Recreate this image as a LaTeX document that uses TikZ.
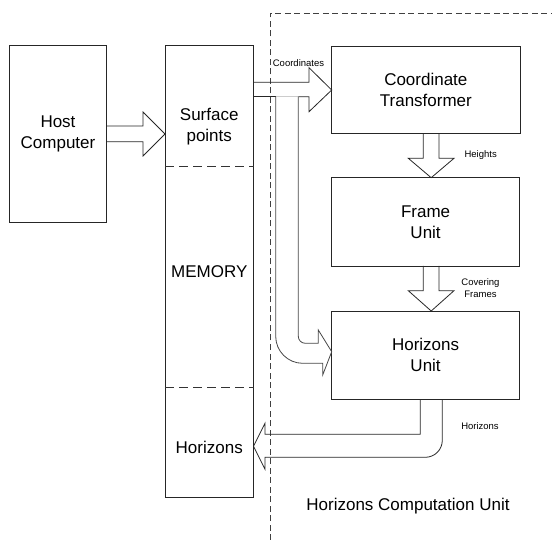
\documentclass[tikz,border=0pt]{standalone}
\usepackage{fontspec}
\setmainfont{Liberation Sans}
\begin{document}
\begin{tikzpicture}[x=1pt,y=-1pt,
  box/.style={draw=black!85,line width=0.8pt,inner sep=0pt,outer sep=0pt,align=center,font=\fontsize{17}{21}\selectfont},
  bigtext/.style={inner sep=0pt,align=center,font=\fontsize{17}{21}\selectfont},
  smalltext/.style={inner sep=0pt,align=center,font=\fontsize{9.5}{12.3}\selectfont},
  blockarrow/.style={draw=black!85,line width=0.8pt,line join=miter},
  brancharrow/.style={draw=black!72,line width=0.8pt,line join=miter},
  boundary/.style={draw=black!75,line width=0.8pt,dash pattern=on 6pt off 3.5pt},
  memsplit/.style={draw=black!80,line width=0.8pt,dash pattern=on 9pt off 5pt}]
\useasboundingbox (0,0) rectangle (552,540);
% boxes
\node[box,minimum width=97.4pt,minimum height=176.6pt] (host) at (58,134) {Host\\Computer};
\node[box,minimum width=88.5pt,minimum height=452pt] (mem) at (209.25,271.7) {};
\node[box,minimum width=188.3pt,minimum height=87.3pt] (ct) at (425.85,89.65) {Coordinate\\Transformer};
\node[box,minimum width=187.8pt,minimum height=88.3pt] (fu) at (425.6,221.85) {Frame\\Unit};
\node[box,minimum width=187.8pt,minimum height=88pt] (hu) at (425.6,355) {Horizons\\Unit};
% memory contents
\node[bigtext] (surf) at (209.25,127) {Surface\\points};
\node[bigtext] (memlabel) at (209.25,271.7) {MEMORY};
\node[bigtext] (memhor) at (209.25,447.7) {Horizons};
\draw[memsplit] (165,166.7) -- (253.5,166.7);
\draw[memsplit] (165,387.3) -- (253.5,387.3);
% boundary of computation unit
\draw[boundary] (270,540) -- (270,13.3) -- (552,13.3);
\node[bigtext] (hcu) at (408,506) {Horizons Computation Unit};
% host -> memory
\draw[blockarrow] (106.7,126) -- (143,126) -- (143,112) -- (165,134) -- (143,156) -- (143,141.7) -- (106.7,141.7);
% memory -> coordinate transformer
\draw[blockarrow] (253.5,82.3) -- (309,82.3) -- (309,67.7) -- (331.7,90) -- (309,111.7) -- (309,96.7) -- (298.3,96.7);
\draw[blockarrow] (253.5,96.7) -- (275.7,96.7);
\draw[draw=black!20,line width=0.8pt] (275.7,96.7) -- (298.3,96.7);
\node[smalltext] (lcoord) at (298.5,63.3) {Coordinates};
% branch down to horizons unit
\draw[brancharrow] (298.3,96.7) -- (298.3,336.3) .. controls (298.3,340.2) and (301.4,343.3) .. (305.3,343.3)
  -- (318.3,343.3) -- (318.3,330) -- (331.7,351.7) -- (322.7,375) -- (322.7,363.3) -- (302.7,363.3)
  .. controls (287.8,363.3) and (275.7,351.2) .. (275.7,336.3) -- (275.7,96.7);
% heights
\draw[blockarrow] (423.3,133.3) -- (423.3,158.3) -- (408.3,158.3) -- (431.2,177.7) -- (454,158.3) -- (439,158.3) -- (439,133.3);
\node[smalltext] (lheights) at (480.7,155) {Heights};
% covering frames
\draw[blockarrow] (423.3,266) -- (423.3,290.7) -- (408.3,290.7) -- (431.2,311) -- (454,290.7) -- (439,290.7) -- (439,266);
\node[smalltext] (lcover) at (480.5,288) {Covering\\Frames};
% horizons back to memory
\draw[blockarrow] (420.3,399) -- (420.3,434.3) -- (265,434.3) -- (265,423.3) -- (253.5,446.3) -- (265,469.3) -- (265,457.3) -- (425.3,457.3)
  .. controls (434.7,457.3) and (442.3,449.7) .. (442.3,440.3) -- (442.3,399);
\node[smalltext] (lhor) at (480,425.7) {Horizons};
\end{tikzpicture}
\end{document}
